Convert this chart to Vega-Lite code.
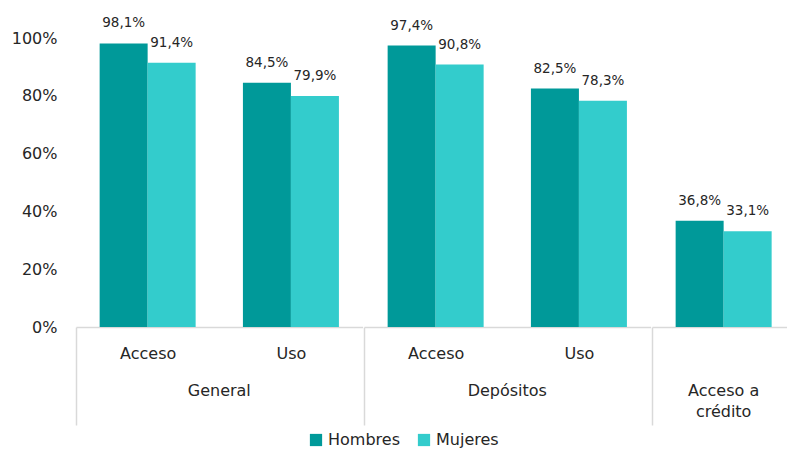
{
  "$schema": "https://vega.github.io/schema/vega-lite/v6.json",
  "padding": {"left": 11, "top": 16, "right": 0, "bottom": 0},
  "config": {
    "locale": {"number": {"decimal": ",", "thousands": ".", "grouping": [3], "currency": ["", " €"]}},
    "font": "DejaVu Sans",
    "view": {"stroke": null},
    "facet": {"spacing": 0},
    "legend": {"layout": {"bottom": {"anchor": "middle"}}}
  },
  "data": {
    "values": [
      {"grupo": "General", "sub": "Acceso", "sexo": "Hombres", "valor": 0.981},
      {"grupo": "General", "sub": "Acceso", "sexo": "Mujeres", "valor": 0.914},
      {"grupo": "General", "sub": "Uso", "sexo": "Hombres", "valor": 0.845},
      {"grupo": "General", "sub": "Uso", "sexo": "Mujeres", "valor": 0.799},
      {"grupo": "Depósitos", "sub": "Acceso", "sexo": "Hombres", "valor": 0.974},
      {"grupo": "Depósitos", "sub": "Acceso", "sexo": "Mujeres", "valor": 0.908},
      {"grupo": "Depósitos", "sub": "Uso", "sexo": "Hombres", "valor": 0.825},
      {"grupo": "Depósitos", "sub": "Uso", "sexo": "Mujeres", "valor": 0.783},
      {"grupo": "Acceso a crédito", "sub": " ", "sexo": "Hombres", "valor": 0.368},
      {"grupo": "Acceso a crédito", "sub": " ", "sexo": "Mujeres", "valor": 0.331}
    ]
  },
  "facet": {
    "column": {
      "field": "grupo",
      "type": "nominal",
      "sort": ["General", "Depósitos", "Acceso a crédito"],
      "title": null,
      "header": {
        "labelOrient": "bottom",
        "labelFontSize": 16,
        "labelColor": "#262626",
        "labelFont": "DejaVu Sans",
        "labelPadding": -43,
        "labelLineHeight": 21,
        "labelExpr": "datum.value == 'Acceso a crédito' ? ['Acceso a', 'crédito'] : datum.value"
      }
    }
  },
  "resolve": {"scale": {"x": "independent"}},
  "spec": {
    "width": {"step": 48},
    "height": 289,
    "layer": [
      {
        "mark": {"type": "bar"},
        "encoding": {
          "x": {
            "field": "sub",
            "type": "nominal",
            "sort": ["Acceso", "Uso", " "],
            "title": null,
            "scale": {"paddingInner": 0.33, "paddingOuter": 0.165},
            "axis": {
              "labelAngle": 0,
              "labelFontSize": 16,
              "labelColor": "#262626",
              "domainColor": "#d9d9d9",
              "domainWidth": 1.5,
              "tickSize": 98,
              "tickWidth": 1.5,
              "tickOffset": -71.6,
              "labelOffset": 71.6,
              "tickColor": {"condition": {"test": "datum.value == 'Uso'", "value": "transparent"}, "value": "#d9d9d9"},
              "labelPadding": -80
            }
          },
          "xOffset": {"field": "sexo", "type": "nominal", "sort": ["Hombres", "Mujeres"]},
          "y": {
            "field": "valor",
            "type": "quantitative",
            "title": null,
            "scale": {"domain": [0, 1]},
            "axis": {
              "format": ".0%",
              "values": [0, 0.2, 0.4, 0.6, 0.8, 1],
              "labelOverlap": false,
              "grid": false,
              "domain": false,
              "ticks": false,
              "labelFontSize": 16,
              "labelColor": "#262626",
              "labelPadding": 18
            }
          },
          "color": {
            "field": "sexo",
            "type": "nominal",
            "scale": {"domain": ["Hombres", "Mujeres"], "range": ["#009999", "#33cccc"]},
            "legend": {
              "title": null,
              "orient": "bottom",
              "direction": "horizontal",
              "symbolType": "square",
              "symbolSize": 150,
              "symbolStrokeWidth": 0,
              "labelFontSize": 16,
              "labelColor": "#262626",
              "columnPadding": 16,
              "offset": 6
            }
          }
        }
      },
      {
        "mark": {"type": "text", "dy": -20, "fontSize": 13.5, "color": "#262626"},
        "encoding": {
          "x": {"field": "sub", "type": "nominal", "sort": ["Acceso", "Uso", " "]},
          "xOffset": {"field": "sexo", "type": "nominal", "sort": ["Hombres", "Mujeres"]},
          "y": {"field": "valor", "type": "quantitative"},
          "text": {"field": "valor", "type": "quantitative", "format": ".1%"}
        }
      }
    ]
  }
}
